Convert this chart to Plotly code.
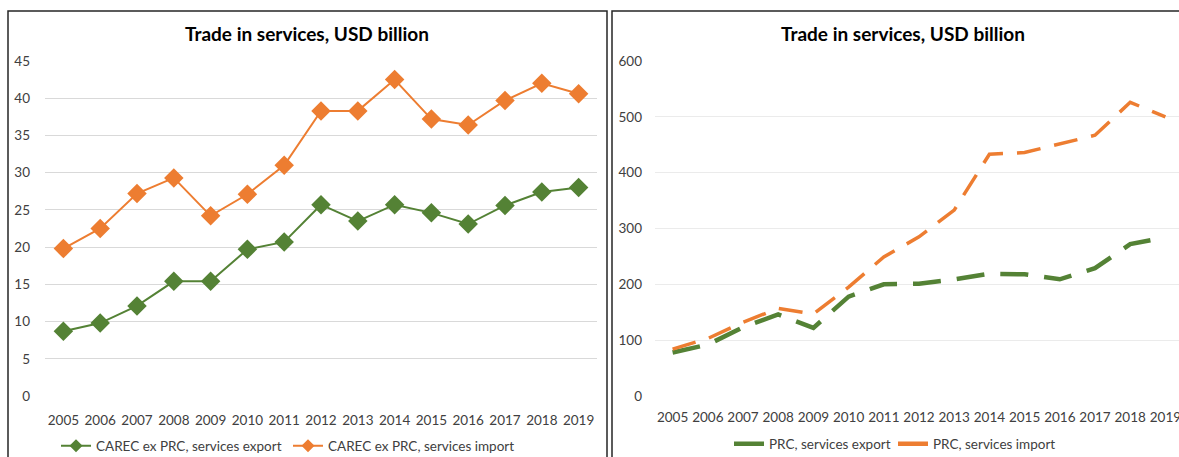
import plotly.graph_objects as go

# Years shown on both category axes
years = [str(y) for y in range(2005, 2020)]

# CAREC excluding PRC, USD billion
carec_export = [8.7, 9.8, 12.1, 15.4, 15.4, 19.7, 20.7, 25.7, 23.5, 25.7, 24.6, 23.1, 25.6, 27.4, 28.0]
carec_import = [19.8, 22.5, 27.2, 29.3, 24.2, 27.1, 31.0, 38.3, 38.3, 42.5, 37.2, 36.4, 39.7, 42.0, 40.6]

# PRC, USD billion
prc_export = [78, 92, 123, 146, 122, 178, 200, 201, 209, 219, 218, 209, 229, 272, 284]
prc_import = [84, 103, 132, 157, 147, 195, 249, 285, 333, 433, 436, 451, 467, 526, 500]

title_text = "Trade in services, USD billion"

GREEN = "#548235"
ORANGE = "#ED7D31"
GRID = "#D9D9D9"
FONT = "Lato"

W, H = 1179, 457


def px_x(x):
    return x / W


def px_y(y):
    return (H - y) / H


fig = go.Figure()

# Left panel: solid lines with diamond markers
fig.add_trace(go.Scatter(
    x=years, y=carec_export, name="CAREC ex PRC, services export",
    mode="lines+markers", line=dict(color=GREEN, width=2),
    marker=dict(symbol="diamond", size=15, color=GREEN),
    xaxis="x", yaxis="y", showlegend=False))
fig.add_trace(go.Scatter(
    x=years, y=carec_import, name="CAREC ex PRC, services import",
    mode="lines+markers", line=dict(color=ORANGE, width=2),
    marker=dict(symbol="diamond", size=15, color=ORANGE),
    xaxis="x", yaxis="y", showlegend=False))

# Right panel: thick dashed lines
fig.add_trace(go.Scatter(
    x=years, y=prc_export, name="PRC, services export",
    mode="lines", line=dict(color=GREEN, width=4.5, dash="28px,16px"),
    xaxis="x2", yaxis="y2", showlegend=False))
fig.add_trace(go.Scatter(
    x=years, y=prc_import, name="PRC, services import",
    mode="lines", line=dict(color=ORANGE, width=3.5, dash="24px,14px"),
    xaxis="x2", yaxis="y2", showlegend=False))

# Legend entries with compact symbols
for name, color in (("CAREC ex PRC, services export", GREEN),
                    ("CAREC ex PRC, services import", ORANGE)):
    fig.add_trace(go.Scatter(
        x=[None], y=[None], name=name, mode="lines+markers",
        line=dict(color=color, width=2),
        marker=dict(symbol="diamond", size=10, color=color),
        xaxis="x", yaxis="y", legend="legend", hoverinfo="skip"))
for name, color in (("PRC, services export", GREEN),
                    ("PRC, services import", ORANGE)):
    fig.add_trace(go.Scatter(
        x=[None], y=[None], name=name, mode="lines",
        line=dict(color=color, width=4.5),
        xaxis="x2", yaxis="y2", legend="legend2", hoverinfo="skip"))

ydom = [px_y(396), px_y(61)]
tickfont = dict(family=FONT, size=13.5, color="#404040")

axis_common = dict(showline=False, zeroline=False, ticks="", tickfont=tickfont,
                   automargin=False)

legend_font = dict(family=FONT, size=13.5, color="#404040")

fig.update_layout(
    width=W, height=H,
    margin=dict(l=0, r=0, t=0, b=0, autoexpand=False),
    paper_bgcolor="white", plot_bgcolor="white",
    font=dict(family=FONT, color="#404040"),
    xaxis=dict(domain=[px_x(45), px_x(597)], type="category",
               range=[-0.5, 14.5], showgrid=False, anchor="y",
               ticklabelstandoff=14, **axis_common),
    yaxis=dict(domain=ydom, range=[0, 45], dtick=5, showgrid=True,
               gridcolor=GRID, gridwidth=1, anchor="x",
               ticklabelstandoff=14, **axis_common),
    xaxis2=dict(domain=[px_x(655), 1.0], type="category",
                range=[-0.5, 14.5 - (1183 - W) / 35.2], showgrid=False,
                anchor="y2", ticklabelstandoff=11, **axis_common),
    yaxis2=dict(domain=ydom, range=[0, 600], dtick=100, showgrid=True,
                gridcolor="#EBEBEB", gridwidth=1, anchor="x2",
                ticklabelstandoff=12, **axis_common),
    legend=dict(orientation="h", x=px_x(56), y=px_y(446),
                xanchor="left", yanchor="middle", font=legend_font,
                bgcolor="rgba(0,0,0,0)", itemwidth=30,
                entrywidth=187, traceorder="normal"),
    legend2=dict(orientation="h", x=px_x(729), y=px_y(444),
                 xanchor="left", yanchor="middle", font=legend_font,
                 bgcolor="rgba(0,0,0,0)", itemwidth=30,
                 entrywidth=119, traceorder="normal"),
    showlegend=True,
)

# Chart titles
for cx in (307, 903):
    fig.add_annotation(
        x=px_x(cx), y=px_y(33), xref="paper", yref="paper",
        text="<b>" + title_text + "</b>", showarrow=False,
        xanchor="center", yanchor="middle",
        font=dict(family=FONT, size=19, color="#000000"))

# Panel frames
frame = dict(color="#262626", width=1.5)
fig.add_shape(type="rect", xref="paper", yref="paper",
              x0=px_x(8), x1=px_x(607), y0=-0.1, y1=px_y(11),
              line=frame, fillcolor="rgba(0,0,0,0)", layer="above")
fig.add_shape(type="rect", xref="paper", yref="paper",
              x0=px_x(612), x1=1.1, y0=-0.1, y1=px_y(11),
              line=frame, fillcolor="rgba(0,0,0,0)", layer="above")

fig.write_html("out.html")
